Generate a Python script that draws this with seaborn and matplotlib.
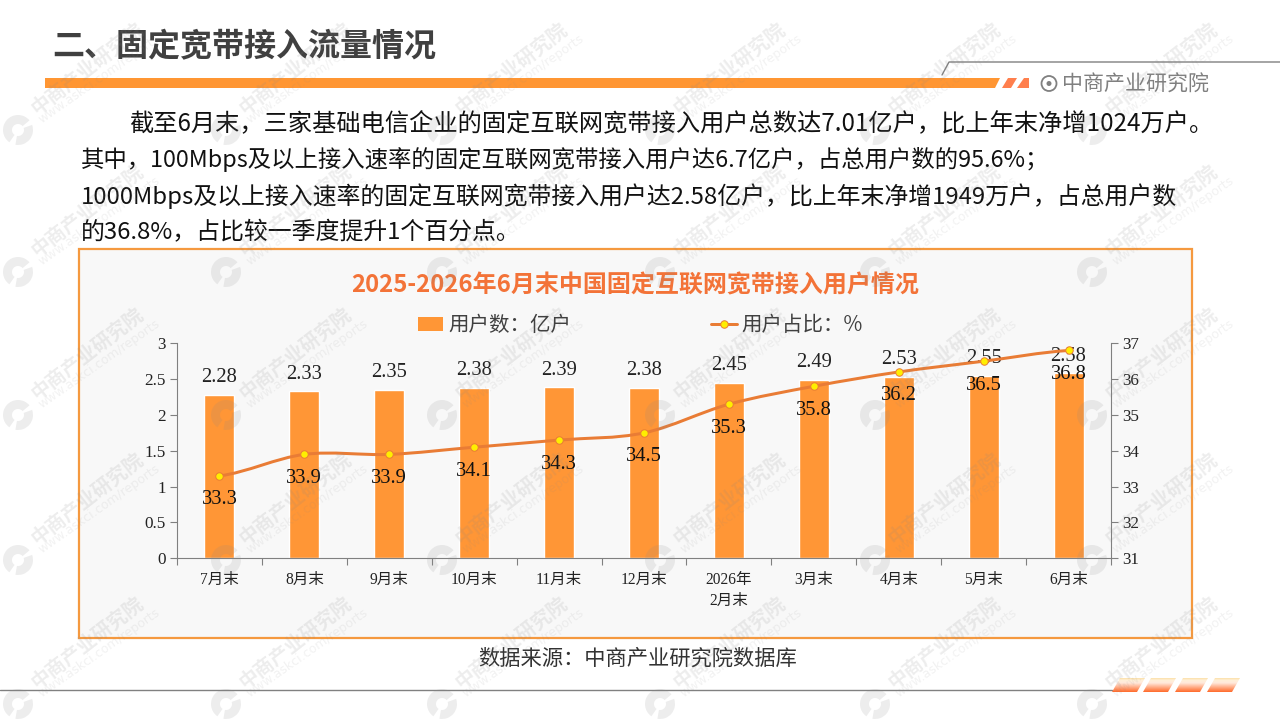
import numpy as np
import pandas as pd
import seaborn as sns
import matplotlib
matplotlib.use("Agg")
import matplotlib.pyplot as plt
from matplotlib.lines import Line2D
from matplotlib.patches import Circle, Path, PathPatch, Polygon, Rectangle, Wedge

# chart data
months = ["7月末", "8月末", "9月末", "10月末", "11月末", "12月末", "2026年\n2月末",
          "3月末", "4月末", "5月末", "6月末"]
users = [2.28, 2.33, 2.35, 2.38, 2.39, 2.38, 2.45, 2.49, 2.53, 2.55, 2.58]
share = [33.3, 33.9, 33.9, 34.1, 34.3, 34.5, 35.3, 35.8, 36.2, 36.5, 36.8]
left_ticks = [0, 0.5, 1, 1.5, 2, 2.5, 3]
right_ticks = [31, 32, 33, 34, 35, 36, 37]

# slide text
heading = "二、固定宽带接入流量情况"
brand = "中商产业研究院"
body_lines = [
    "截至6月末，三家基础电信企业的固定互联网宽带接入用户总数达7.01亿户，比上年末净增1024万户。",
    "其中，100Mbps及以上接入速率的固定互联网宽带接入用户达6.7亿户，占总用户数的95.6%；",
    "1000Mbps及以上接入速率的固定互联网宽带接入用户达2.58亿户，比上年末净增1949万户，占总用户数",
    "的36.8%，占比较一季度提升1个百分点。",
]
chart_title = "2025-2026年6月末中国固定互联网宽带接入用户情况"
source = "数据来源：中商产业研究院数据库"

BAR = "#FF9636"
LINE = "#E97C35"
SANS = ["Noto Sans CJK SC", "DejaVu Sans"]
SERIF = ["Liberation Serif", "Noto Sans CJK SC"]

sns.set_theme(style="white")
plt.rcParams["font.family"] = SANS
plt.rcParams["axes.unicode_minus"] = False

W, H = 1280, 720
px = 0.72  # points per pixel at dpi 100
fig = plt.figure(figsize=(W / 100, H / 100), dpi=100, facecolor="white")

# background layer in pixel coordinates
bg = fig.add_axes([0, 0, 1, 1], zorder=0)
bg.set_xlim(0, W)
bg.set_ylim(H, 0)
bg.axis("off")

bg.text(52, 47, heading, fontsize=32 * px, fontweight="bold", color="#404040", va="center")
bg.add_patch(Polygon([(45, 78), (1000, 78), (995, 88), (45, 88)], color="#FF9633", lw=0))
bg.add_patch(Polygon([(1008, 78), (1017, 78), (1011, 88), (1002, 88)], color="#FF7F4D", lw=0))
bg.add_patch(Polygon([(1024, 78), (1029, 78), (1029, 88), (1017, 88)], color="#FF7F4D", lw=0))
bg.plot([942, 949, W], [75, 62, 62], color="#808080", lw=1)
bg.add_patch(Circle((1049, 83.5), 7.5, fc="none", ec="#808080", lw=1.3))
bg.add_patch(Circle((1049, 83.5), 2.5, fc="#808080", lw=0))
bg.text(1062, 85, brand, fontsize=21 * px, color="#808080", va="center")

body_pos = [(129, 124, 24.2), (81, 160, 23.4), (81, 196, 23.9), (81, 233, 23.9)]
for (x, y, size), line in zip(body_pos, body_lines):
    bg.text(x, y, line, fontsize=size * px, color="#111111", va="center")

bg.add_patch(Rectangle((79, 249), 1113, 389, fc="#F8F8F8", ec="#F5993F", lw=1.6))
bg.text(635, 285, chart_title, fontsize=24 * px, fontweight="bold", color="#F37338",
        ha="center", va="center")
bg.text(638, 659, source, fontsize=21.3 * px, color="#333333", ha="center", va="center")

bg.plot([0, 1112], [690, 690], color="#808080", lw=1)
# footer stripes, light top fading to orange at the bottom
t = np.linspace(0, 1, 64)
stripe = np.dstack([
    np.interp(t, [0, 0.15, 0.35, 1], [0.99, 1.0, 1.0, 1.0]),
    np.interp(t, [0, 0.15, 0.35, 1], [0.88, 0.94, 0.91, 0.42]),
    np.interp(t, [0, 0.15, 0.35, 1], [0.66, 0.85, 0.86, 0.17]),
]).reshape(-1, 1, 3)
for x0 in [1112, 1143, 1175, 1207]:
    poly = Polygon([(x0 + 8, 678), (x0 + 33, 678), (x0 + 25, 692), (x0, 692)], transform=bg.transData,
                   fc="none", lw=0)
    bg.add_patch(poly)
    img = bg.imshow(stripe, extent=[x0, x0 + 33, 692, 678], aspect="auto", zorder=2)
    img.set_clip_path(poly)
bg.set_xlim(0, W)
bg.set_ylim(H, 0)

# chart axes, pixel box 177..1111 x 343..558
ax = fig.add_axes([177 / W, 1 - 558.3 / H, 934 / W, 215 / H], zorder=2)
ax.patch.set_alpha(0)
df = pd.DataFrame({"month": months, "users": users, "share": share})
sns.barplot(data=df, x="month", y="users", color=BAR, saturation=1, width=0.353, ax=ax, zorder=2)
ax.set_xlim(-0.5, len(months) - 0.5)
ax.set_ylim(0, 3)
ax.set_xlabel("")
ax.set_ylabel("")
ax.set_yticks(left_ticks, [f"{v:g}" for v in left_ticks])
ax.set_xticks(range(len(months)), months)
ax.set_xticks(np.arange(len(months) + 1) - 0.5, minor=True)

ax2 = ax.twinx()
ax2.set_ylim(31, 37)
ax2.set_yticks(right_ticks, [str(v) for v in right_ticks])
ax2.patch.set_alpha(0)

# smooth connecting curve through the share values
xs = np.arange(len(share), dtype=float)
ys = np.array(share)
verts = [(xs[0], ys[0])]
codes = [Path.MOVETO]
for i in range(len(xs) - 1):
    m0 = (ys[min(i + 1, len(ys) - 1)] - ys[max(i - 1, 0)]) / 2
    m1 = (ys[min(i + 2, len(ys) - 1)] - ys[i]) / 2
    verts += [(xs[i] + 1 / 3, ys[i] + m0 / 3), (xs[i + 1] - 1 / 3, ys[i + 1] - m1 / 3), (xs[i + 1], ys[i + 1])]
    codes += [Path.CURVE4] * 3
ax2.add_patch(PathPatch(Path(verts, codes), fc="none", ec=LINE, lw=3 * px, capstyle="round"))
sns.lineplot(x=xs, y=ys, ax=ax2, linewidth=0, marker="o", markersize=7.5 * px, color=LINE,
             markerfacecolor="#FFEE00", markeredgecolor=LINE, markeredgewidth=0.7, legend=False, zorder=3)
ax2.set_ylim(31, 37)
ax2.set_xlim(-0.5, len(months) - 0.5)

for a in (ax, ax2):
    a.grid(False)
    for s in a.spines.values():
        s.set_visible(False)
    a.tick_params(axis="y", length=5, width=0.8, color="#808080", labelsize=17 * px, pad=3, labelcolor="#222222")
    for lab in a.get_yticklabels():
        lab.set_family(SERIF)
ax.spines["left"].set_visible(True)
ax.spines["bottom"].set_visible(True)
ax2.spines["right"].set_visible(True)
for s in (ax.spines["left"], ax.spines["bottom"], ax2.spines["right"]):
    s.set_color("#808080")
    s.set_linewidth(0.8)
ax.tick_params(axis="x", which="major", length=0, labelsize=15.5 * px, pad=10, labelcolor="#222222")
ax.tick_params(axis="x", which="minor", length=5, width=0.8, color="#808080", bottom=True)
for lab in ax.get_xticklabels():
    lab.set_family(SERIF)
    lab.set_linespacing(1.4)

# value labels
for i, (u, s) in enumerate(zip(users, share)):
    ax.annotate(f"{u:.2f}", (i, u), xytext=(0, 17 * px), textcoords="offset points", ha="center", va="center",
                fontsize=20.5 * px, family=SERIF, color="#222222", zorder=6)
    ax2.annotate(f"{s:.1f}", (i, s), xytext=(0, -24 * px), textcoords="offset points", ha="center", va="center",
                 fontsize=20.5 * px, family=SERIF, color="#111111", zorder=6)

handles = [
    Rectangle((0, 0), 1, 1, fc=BAR, lw=0),
    Line2D([], [], color=LINE, lw=3 * px, marker="o", markersize=7.5 * px, markerfacecolor="#FFEE00",
           markeredgecolor=LINE, markeredgewidth=0.7),
]
fig.legend(handles, ["用户数：亿户", "用户占比：%"], ncols=2, loc="center", bbox_to_anchor=(640.2 / W, 1 - 325 / H),
           frameon=False, fontsize=20.5 * px, handlelength=1.25, handleheight=0.65, handletextpad=0.22,
           columnspacing=6.84, labelcolor="#404040")

# watermark layer on top
wm = fig.add_axes([0, 0, 1, 1], zorder=5)
wm.set_xlim(0, W)
wm.set_ylim(H, 0)
wm.axis("off")
for row_y in [130, 272, 415, 560, 704]:
    for col_x in [18, 226, 442, 660, 875, 1092]:
        wm.add_patch(Wedge((col_x, row_y), 15, 125, 320, width=9, fc="#888888", alpha=0.15, lw=0))
        wm.add_patch(Wedge((col_x, row_y), 15, 340, 100, width=9, fc="#888888", alpha=0.15, lw=0))
        wm.text(col_x + 19, row_y - 15, brand, rotation=38, rotation_mode="anchor", fontsize=19.5 * px,
                fontweight="bold", color="#888888", alpha=0.15, ha="left", va="baseline")
        wm.text(col_x + 24, row_y - 6, "www.askci.com/reports", rotation=35, rotation_mode="anchor",
                fontsize=12.5 * px, color="#888888", alpha=0.11, ha="left", va="baseline", family=["DejaVu Sans"])

fig.savefig("out.png", dpi=100, facecolor="white")
